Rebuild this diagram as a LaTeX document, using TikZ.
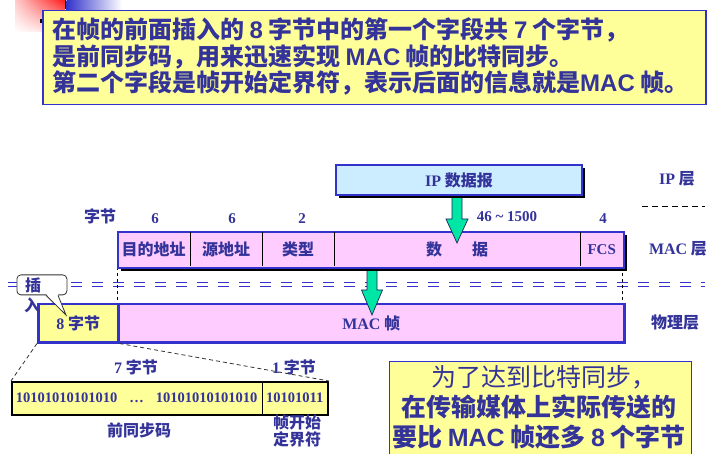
\documentclass[tikz,border=0pt]{standalone}
\usepackage{fontspec}
\setmainfont{Liberation Serif}
\newfontfamily\zh{Noto Sans CJK SC}
\newfontfamily\lat{Liberation Sans}
\usetikzlibrary{shadows,calc,shadings}
\definecolor{tx}{RGB}{51,51,153}
\definecolor{bd}{RGB}{51,51,204}
\definecolor{yel}{RGB}{255,255,153}
\definecolor{pk}{RGB}{255,204,255}
\definecolor{lb}{RGB}{204,236,255}
\definecolor{gr}{RGB}{0,230,165}
\newcommand\sr[1]{{\rmfamily\bfseries #1}}
\newcommand\ls[1]{{\lat\bfseries #1}}
\tikzset{
 big/.style={text=tx, font=\zh\bfseries\fontsize{24}{26}\selectfont, inner sep=0, anchor=base west},
 note/.style={text=tx, font=\zh\bfseries\fontsize{25}{28}\selectfont, inner sep=0, anchor=base},
 lbl/.style={text=tx, font=\zh\bfseries\fontsize{16}{18}\selectfont, inner sep=0},
 num/.style={text=tx, font=\rmfamily\bfseries\fontsize{15}{17}\selectfont, inner sep=0},
 bits/.style={text=tx, font=\rmfamily\bfseries\fontsize{14.5}{16}\selectfont, inner sep=0},
 fld/.style={inner sep=0, anchor=north west, minimum height=36},
 pfld/.style={inner sep=0, anchor=north west, minimum height=33},
 rowbox/.style={draw=bd, inner sep=0, anchor=north west},
 shad/.style={drop shadow={opacity=1, fill=black, shadow xshift=3pt, shadow yshift=-3pt}},
 grarrow/.style={fill=gr, draw=tx!60!black, line width=0.7},
 divider/.style={black, line width=1},
 thindash/.style={black, line width=0.8, dash pattern=on 3 off 3},
}
\begin{document}
\begin{tikzpicture}[x=1pt,y=-1pt]
\useasboundingbox (0,0) rectangle (712,454);
% corner decoration
\shade[upper right=red!90, upper left=red!20!white, lower right=red!15!white, lower left=white] (15,0) rectangle (65,32);
\draw[black, line width=1.2] (65.5,0) -- (65.5,9);
\shade[left color=bd, right color=white] (66.5,0) rectangle (122,15);
\fill[black] (40,19) rectangle (43,23);
% top text box
\node[draw=bd, line width=1.5, fill=yel, minimum width=663, minimum height=94, inner sep=0, anchor=north west] (topbox) at (42,10) {};
\node[big] (t1) at (52,39) {在帧的前面插入的 \ls{8} 字节中的第一个字段共 \ls{7} 个字节，};
\node[big] (t2) at (52,66) {是前同步码，用来迅速实现 \ls{MAC} 帧的比特同步。};
\node[big] (t3) at (52,92) {第二个字段是帧开始定界符，表示后面的信息就是\ls{MAC} 帧。};
% double dashed separator
\draw[bd, line width=1.3, dash pattern=on 11 off 10] (8,282.5) -- (705,282.5);
\draw[bd, line width=1.3, dash pattern=on 11 off 10] (8,286.5) -- (705,286.5);
% physical layer row
\node[rowbox, line width=2.5, fill=yel, minimum width=80, minimum height=38, lbl] (eight) at (37,303) {\sr{8} 字节};
\node[rowbox, line width=2.5, fill=pk, minimum width=506, minimum height=38, lbl] (phys) at (117,303) {\sr{MAC} 帧};
% arrow MAC -> physical
\coordinate (a2) at (372,268);
\draw[grarrow] ($(a2)+(-5,0)$) -- ($(a2)+(-5,22)$) -- ($(a2)+(-10.5,22)$) -- ($(a2)+(0,47)$) -- ($(a2)+(10.5,22)$) -- ($(a2)+(5,22)$) -- ($(a2)+(5,0)$);
% vertical dashed guides
\draw[thindash] (117,267) -- (phys.north west);
\draw[thindash] (622,267) -- (622,303);
% MAC row
\node[rowbox, line width=2, fill=pk, minimum width=506, minimum height=36, shad] (macrow) at (117,231) {};
\node[fld, lbl, minimum width=73] (dst) at (117,231) {目的地址};
\node[fld, lbl, minimum width=72] (src) at (190,231) {源地址};
\node[fld, lbl, minimum width=72] (typ) at (262,231) {类型};
\node[fld, lbl, minimum width=246] (dat) at (334,231) {数\hspace{30pt}据};
\node[fld, num, minimum width=43] (fcs) at (580,231) {FCS};
\draw[divider] ([yshift=-1pt]dst.north east) -- ([yshift=1pt]dst.south east);
\draw[divider] ([yshift=-1pt]src.north east) -- ([yshift=1pt]src.south east);
\draw[divider] ([yshift=-1pt]typ.north east) -- ([yshift=1pt]typ.south east);
\draw[divider] ([yshift=-1pt]dat.north east) -- ([yshift=1pt]dat.south east);
% arrow IP -> MAC
\coordinate (a1) at (457,194);
\draw[grarrow] ($(a1)+(-5,0)$) -- ($(a1)+(-5,25)$) -- ($(a1)+(-11,25)$) -- ($(a1)+(0,49)$) -- ($(a1)+(11,25)$) -- ($(a1)+(5,25)$) -- ($(a1)+(5,0)$);
% IP datagram
\node[rowbox, line width=2, fill=lb, minimum width=246, minimum height=30, shad, lbl] (ip) at (335,164) {\sr{IP} 数据报};
% byte counts
\node[lbl] (zj) at (100,216) {字节};
\node[num] (n1) at (155,219) {6};
\node[num] (n2) at (232,219) {6};
\node[num] (n3) at (302,219) {2};
\node[num] (n4) at (507,217) {46 \textasciitilde{} 1500};
\node[num] (n5) at (603,219) {4};
% layer labels
\node[lbl] (ipl) at (677,179) {\sr{IP} 层};
\draw[black, line width=0.9, dash pattern=on 6 off 4] (642,206) -- (705,206);
\node[lbl] (macl) at (678,249) {\sr{MAC} 层};
\node[lbl] (phl) at (675,323) {物理层};
% callout
\node[draw=black!80, line width=0.8, fill=white, rounded corners=4, minimum width=50, minimum height=20, inner sep=0, anchor=north west] (callbox) at (16.5,274.5) {};
\coordinate (ptip) at (66,315);
\fill[white] ($(callbox.south west)+(29.5,-1.5)$) -- (ptip) -- ($(callbox.south west)+(41.5,-1.5)$) -- cycle;
\draw[black!80, line width=0.8] ($(callbox.south west)+(29.5,0)$) -- (ptip) -- ($(callbox.south west)+(41.5,0)$);
\node[lbl] (ins1) at (33,285) {插};
\node[lbl] (ins2) at (32,305) {入};
% preamble expansion
\node[draw=black, line width=2, fill=yel, minimum width=316, minimum height=33, inner sep=0, anchor=north west] (prebox) at (11,381) {};
\node[pfld, bits, minimum width=251] (pre) at (11,381) {10101010101010\hspace{12pt}…\hspace{12pt}10101010101010};
\node[pfld, bits, minimum width=65] (sfd) at (262,381) {10101011};
\draw[divider] (pre.north east) -- (pre.south east);
\draw[black!80, line width=0.8, dash pattern=on 4 off 3] (eight.south west) -- (prebox.north west);
\draw[black!80, line width=0.8, dash pattern=on 4 off 3] (eight.south east) -- (prebox.north east);
\node[lbl] (b7) at (136,367) {\sr{7} 字节};
\node[lbl] (b1) at (294,367) {\sr{1} 字节};
\node[lbl] (pl) at (139,430) {前同步码};
\node[lbl, align=center, font=\zh\bfseries\fontsize{16}{14}\selectfont] (sl) at (297,431) {帧开始\\定界符};
% note box
\node[draw=bd, line width=1.2, fill=yel, minimum width=302, minimum height=93, inner sep=0, anchor=north west] (notebox) at (388.5,360.5) {};
\node[note, anchor=base west, font=\zh\fontsize{25}{28}\selectfont] (nb1) at (431,386) {为了达到比特同步，};
\node[note] (nb2) at (539,416) {在传输媒体上实际传送的};
\node[note] (nb3) at (539,446) {要比 \ls{MAC} 帧还多 \ls{8} 个字节};
\end{tikzpicture}
\end{document}
